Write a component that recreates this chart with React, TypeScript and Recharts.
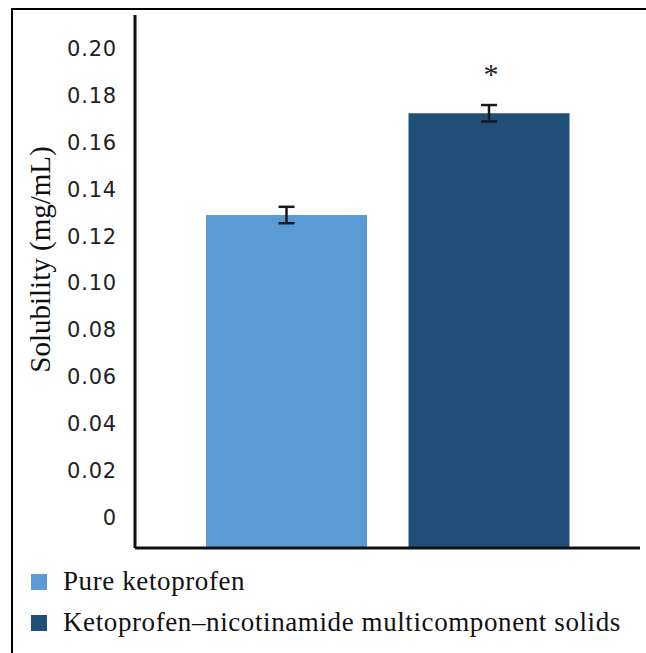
import { BarChart, Bar, XAxis, YAxis, Cell, LabelList } from "recharts";

const CATEGORIES = ["Pure ketoprofen", "Ketoprofen–nicotinamide multicomponent solids"];
const SOLUBILITY = [0.129, 0.1724];
const ERRORS = [0.0035, 0.0035];
const SIGNIFICANCE = ["", "*"];
const Y_TICKS = [0, 0.02, 0.04, 0.06, 0.08, 0.1, 0.12, 0.14, 0.16, 0.18, 0.2];
const COLORS = ["#5b9bd5", "#1f4e79"];

// axis runs a bit below zero in the original figure
const Y_MIN = -0.013;
const Y_MAX = 0.2143;

const SERIF = "Liberation Serif, DejaVu Serif, serif";

const data = CATEGORIES.map((name, i) => ({
    name,
    range: [Y_MIN, SOLUBILITY[i]],
    value: SOLUBILITY[i],
    err: ERRORS[i],
    sig: SIGNIFICANCE[i],
}));

// bar rectangle + error bar, scaled from the bar's own pixel height
function BarWithError(props: any) {
    const { x, y, width, height, fill, payload } = props;
    const perUnit = height / (payload.value - Y_MIN);
    const e = payload.err * perUnit;
    const cx = x + width / 2;
    return (
        <g>
            <rect x={x} y={y} width={width} height={height} fill={fill} />
            <line x1={cx} x2={cx} y1={y - e} y2={y + e} stroke="#1a1a1a" strokeWidth={2.5} />
            <line x1={cx - 8} x2={cx + 8} y1={y - e} y2={y - e} stroke="#1a1a1a" strokeWidth={2.5} />
            <line x1={cx - 8} x2={cx + 8} y1={y + e} y2={y + e} stroke="#1a1a1a" strokeWidth={2.5} />
        </g>
    );
}

function Star(props: any) {
    const { x, y, width, value } = props;
    if (!value) return null;
    return (
        <text x={x + width / 2 + 2} y={y - 29} textAnchor="middle" fontFamily={SERIF} fontSize={30} fill="#222">
            {value}
        </text>
    );
}

function LegendBox() {
    return (
        <div style={{ position: "absolute", left: 31, top: 561, fontFamily: SERIF, fontSize: 27, letterSpacing: 0.6, color: "#111" }}>
            {CATEGORIES.map((c, i) => (
                <div key={c} style={{ display: "flex", alignItems: "center", height: 41, whiteSpace: "nowrap" }}>
                    <span style={{ width: 16, height: 16, background: COLORS[i], marginRight: 16, display: "inline-block" }} />
                    <span>{c}</span>
                </div>
            ))}
        </div>
    );
}

export default function App() {
    return (
        <div style={{ position: "absolute", left: 0, top: 0, width: 646, height: 653, background: "#fff", overflow: "hidden" }}>
            <div style={{ position: "absolute", left: 11, top: 8, right: 0, bottom: 0, borderLeft: "2px solid #000", borderTop: "2.5px solid #000" }} />
            <BarChart width={646} height={653} data={data} margin={{ top: 15, right: 6, left: 0, bottom: 103 }}>
                <XAxis
                    dataKey="name"
                    tick={false}
                    tickLine={false}
                    axisLine={{ stroke: "#111", strokeWidth: 3 }}
                    padding={{ left: 50, right: 50 }}
                    height={2}
                />
                <YAxis
                    width={135}
                    domain={[Y_MIN, Y_MAX]}
                    ticks={Y_TICKS}
                    allowDataOverflow
                    tickFormatter={(v: number) => (v === 0 ? "0" : v.toFixed(2))}
                    tickLine={false}
                    tickSize={0}
                    tickMargin={18}
                    axisLine={{ stroke: "#111", strokeWidth: 3 }}
                    tick={{ fontFamily: "DejaVu Sans", fontSize: 21, fill: "#222", letterSpacing: 0.8 }}
                    label={{
                        value: "Solubility (mg/mL)",
                        angle: -90,
                        position: "insideLeft",
                        offset: 0,
                        dx: 40,
                        dy: -22,
                        style: { fontFamily: SERIF, fontSize: 29, fill: "#111", textAnchor: "middle" },
                    }}
                />
                <Bar dataKey="range" barSize={161} shape={BarWithError} isAnimationActive={false}>
                    {data.map((d, i) => (
                        <Cell key={d.name} fill={COLORS[i]} />
                    ))}
                    <LabelList dataKey="sig" content={Star} />
                </Bar>
            </BarChart>
            <LegendBox />
        </div>
    );
}
